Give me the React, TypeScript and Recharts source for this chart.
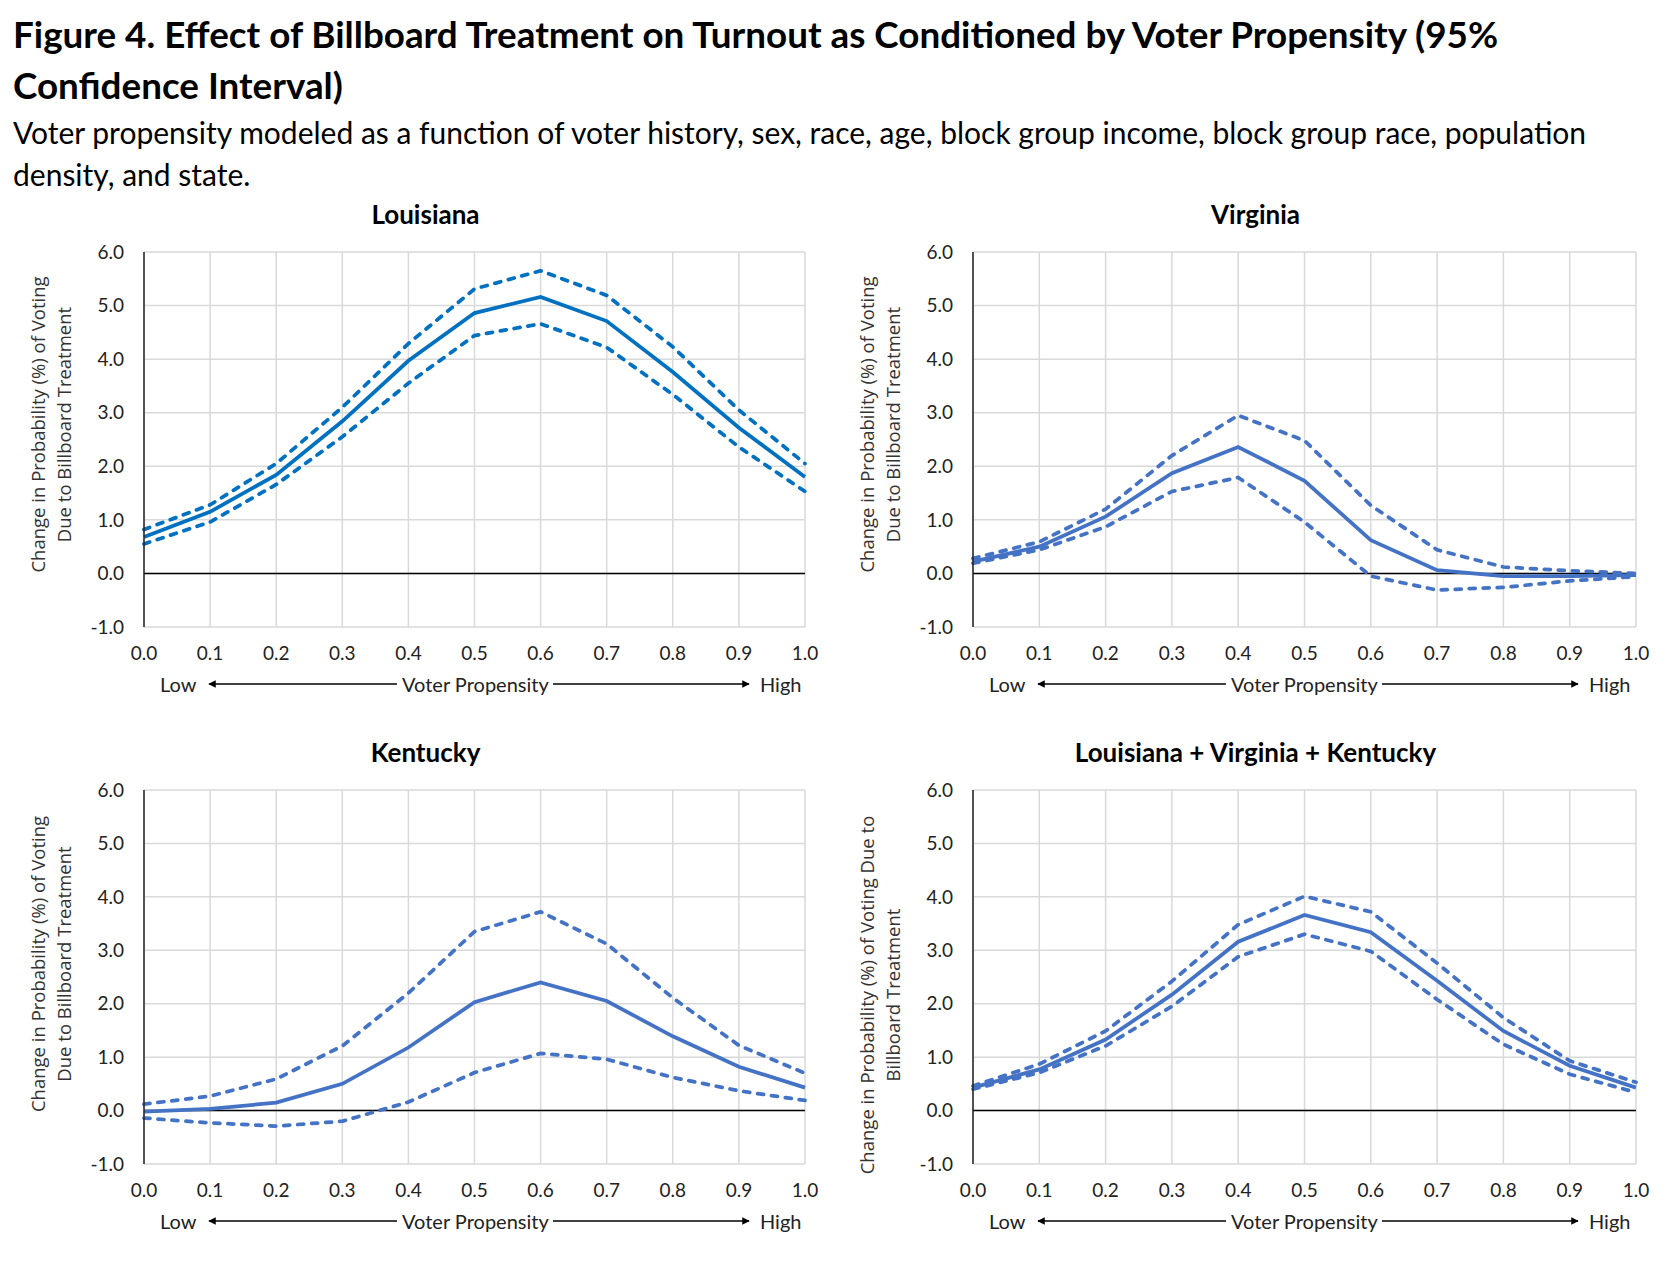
import { LineChart, Line, XAxis, YAxis, CartesianGrid, ReferenceLine } from "recharts";

// voter propensity (x)
const propensity = [0, 0.1, 0.2, 0.3, 0.4, 0.5, 0.6, 0.7, 0.8, 0.9, 1.0];

const laMean = [0.68, 1.15, 1.84, 2.84, 3.97, 4.86, 5.16, 4.71, 3.76, 2.72, 1.8];
const laUpper = [0.82, 1.28, 2.05, 3.1, 4.29, 5.31, 5.65, 5.19, 4.23, 3.05, 2.05];
const laLower = [0.55, 0.96, 1.66, 2.55, 3.55, 4.44, 4.66, 4.22, 3.34, 2.36, 1.53];

const vaMean = [0.22, 0.5, 1.06, 1.87, 2.36, 1.73, 0.62, 0.06, -0.05, -0.05, -0.03];
const vaUpper = [0.28, 0.59, 1.2, 2.2, 2.95, 2.48, 1.27, 0.44, 0.12, 0.05, 0.0];
const vaLower = [0.19, 0.44, 0.87, 1.53, 1.79, 0.96, -0.05, -0.31, -0.26, -0.14, -0.06];

const kyMean = [-0.02, 0.03, 0.15, 0.5, 1.18, 2.03, 2.4, 2.05, 1.39, 0.82, 0.43];
const kyUpper = [0.12, 0.27, 0.59, 1.21, 2.2, 3.35, 3.72, 3.12, 2.11, 1.22, 0.7];
const kyLower = [-0.14, -0.23, -0.29, -0.2, 0.16, 0.71, 1.07, 0.96, 0.62, 0.37, 0.19];

const allMean = [0.43, 0.77, 1.33, 2.17, 3.16, 3.66, 3.34, 2.43, 1.49, 0.84, 0.43];
const allUpper = [0.46, 0.87, 1.49, 2.42, 3.48, 4.01, 3.72, 2.76, 1.74, 0.93, 0.53];
const allLower = [0.4, 0.71, 1.21, 1.95, 2.88, 3.3, 2.98, 2.08, 1.24, 0.68, 0.34];

const xTicks = [0, 0.1, 0.2, 0.3, 0.4, 0.5, 0.6, 0.7, 0.8, 0.9, 1.0];
const yTicks = [-1, 0, 1, 2, 3, 4, 5, 6];

const calibri = "Lato, 'Liberation Sans', sans-serif";
const segoe = "'Open Sans', 'Noto Sans', sans-serif";

const build = (m: number[], u: number[], l: number[]) =>
  propensity.map((x, i) => ({ x, mean: m[i], upper: u[i], lower: l[i] }));

const panels = [
  { title: "Louisiana", color: "#0070C0", data: build(laMean, laUpper, laLower), px: 144, py: 252, pw: 661, ph: 375,
    ylab: ["Change in Probability (%) of Voting", "Due to Billboard Treatment"], ly: -15 },
  { title: "Virginia", color: "#4472C4", data: build(vaMean, vaUpper, vaLower), px: 973, py: 252, pw: 663, ph: 375,
    ylab: ["Change in Probability (%) of Voting", "Due to Billboard Treatment"], ly: -15 },
  { title: "Kentucky", color: "#4472C4", data: build(kyMean, kyUpper, kyLower), px: 144, py: 790, pw: 661, ph: 374,
    ylab: ["Change in Probability (%) of Voting", "Due to Billboard Treatment"], ly: -13 },
  { title: "Louisiana + Virginia + Kentucky", color: "#4472C4", data: build(allMean, allUpper, allLower), px: 973, py: 790, pw: 663, ph: 374,
    ylab: ["Change in Probability (%) of Voting Due to", "Billboard Treatment"], ly: 18 },
];

const YW = 60;
const TOP = 20;
const XH = 50;
const RIGHT = 30;

function Panel({ p }: { p: (typeof panels)[number] }) {
  return (
    <div style={{ position: "absolute", left: p.px - YW, top: p.py - TOP }}>
      <LineChart
        width={p.pw + YW + RIGHT}
        height={p.ph + TOP + XH}
        data={p.data}
        margin={{ top: TOP, right: RIGHT, left: 0, bottom: 0 }}
      >
        <CartesianGrid stroke="#d9d9d9" strokeWidth={1.5} />
        <XAxis
          dataKey="x"
          type="number"
          domain={[0, 1]}
          ticks={xTicks}
          tickFormatter={(v: number) => v.toFixed(1)}
          axisLine={false}
          tickLine={false}
          tickSize={0}
          tickMargin={20}
          height={XH}
          interval={0}
          tick={{ fill: "#222", fontSize: 19, fontFamily: calibri }}
        />
        <YAxis
          type="number"
          domain={[-1, 6]}
          ticks={yTicks}
          tickFormatter={(v: number) => v.toFixed(1)}
          axisLine={{ stroke: "#222", strokeWidth: 1.5 }}
          tickLine={false}
          tickSize={0}
          tickMargin={20}
          width={YW}
          interval={0}
          tick={{ fill: "#222", fontSize: 19, fontFamily: calibri }}
        />
        <ReferenceLine y={0} stroke="#000" strokeWidth={1.5} />
        <Line type="linear" dataKey="upper" stroke={p.color} strokeWidth={3.75} strokeDasharray="6 8"
          strokeLinecap="round" dot={false} isAnimationActive={false} />
        <Line type="linear" dataKey="lower" stroke={p.color} strokeWidth={3.75} strokeDasharray="6 8"
          strokeLinecap="round" dot={false} isAnimationActive={false} />
        <Line type="linear" dataKey="mean" stroke={p.color} strokeWidth={3.75} dot={false} isAnimationActive={false} />
      </LineChart>
    </div>
  );
}

function Annotations() {
  return (
    <svg width={1678} height={1268} style={{ position: "absolute", left: 0, top: 0, pointerEvents: "none" }}>
      <defs>
        <marker id="ah" viewBox="0 0 10 10" refX="9" refY="5" markerWidth="5" markerHeight="5" orient="auto-start-reverse">
          <path d="M0,0 L10,5 L0,10 z" fill="#000" />
        </marker>
      </defs>
      <g fontFamily={calibri} fontWeight={700} fontSize={36.8} fill="#000">
        <text x={13} y={48}>Figure 4. Effect of Billboard Treatment on Turnout as Conditioned by Voter Propensity (95%</text>
        <text x={13} y={99}>Confidence Interval)</text>
      </g>
      <g fontFamily={calibri} fontSize={30} fill="#000">
        <text x={13} y={144}>Voter propensity modeled as a function of voter history, sex, race, age, block group income, block group race, population</text>
        <text x={13} y={186}>density, and state.</text>
      </g>
      {panels.map((p) => {
        const cy = p.py + p.ph / 2 + p.ly;
        const ty = p.py - 28;
        const ly = p.py + p.ph + 57;
        const lx = p.px;
        return (
          <g key={p.title}>
            <text x={p.px + p.pw / 2 - 49} y={ty} textAnchor="middle" fontFamily={calibri} fontWeight={700} fontSize={26}>
              {p.title}
            </text>
            <g fontFamily={segoe} fontSize={18.5} fill="#333" textAnchor="middle">
              <text transform={`translate(${p.px - 107},${cy}) rotate(-90)`} dominantBaseline="central">{p.ylab[0]}</text>
              <text transform={`translate(${p.px - 81},${cy}) rotate(-90)`} dominantBaseline="central">{p.ylab[1]}</text>
            </g>
            <g fontFamily={calibri} fontSize={20} fill="#222">
              <text x={lx + 16} y={ly} dominantBaseline="central">Low</text>
              <line x1={lx + 65} y1={ly} x2={lx + 253} y2={ly} stroke="#000" strokeWidth={1.5}
                markerStart="url(#ah)" />
              <text x={lx + 258} y={ly} dominantBaseline="central">Voter Propensity</text>
              <line x1={lx + 409} y1={ly} x2={lx + 605} y2={ly} stroke="#000" strokeWidth={1.5}
                markerEnd="url(#ah)" />
              <text x={lx + 616} y={ly} dominantBaseline="central">High</text>
            </g>
          </g>
        );
      })}
    </svg>
  );
}

export default function App() {
  return (
    <div style={{ position: "absolute", left: 0, top: 0, width: 1678, height: 1268, background: "#fff" }}>
      {panels.map((p) => (
        <Panel key={p.title} p={p} />
      ))}
      <Annotations />
    </div>
  );
}
